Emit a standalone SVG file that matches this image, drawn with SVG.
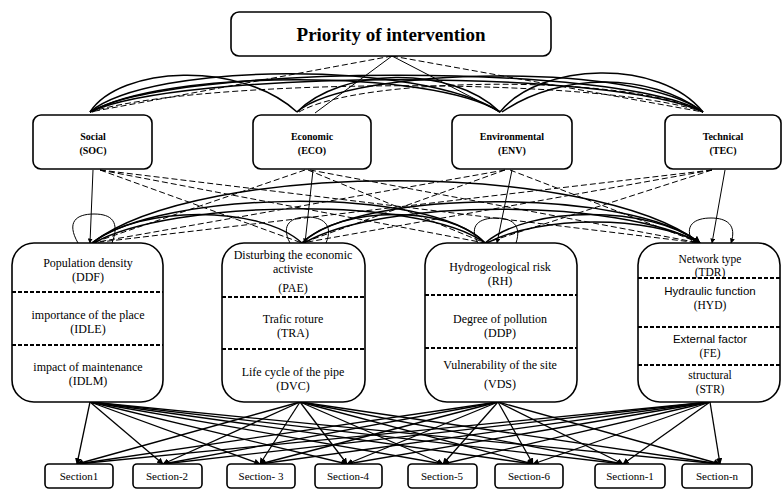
<svg xmlns="http://www.w3.org/2000/svg" width="783" height="489" viewBox="0 0 783 489">
<style>
.box{fill:#fff;stroke:#000;stroke-width:1.6}
.t{font-family:"Liberation Serif","Times New Roman",serif;fill:#000;text-anchor:middle}
.ts{font-family:"Liberation Sans",Arial,sans-serif;fill:#000;text-anchor:middle}
.title{font-size:19px;font-weight:bold}
.crit{font-size:10px;font-weight:bold}
.sub{font-size:12px}
.sub2{font-size:11.5px}
.sec{font-size:11px}
.div{stroke:#000;stroke-width:2;stroke-dasharray:4 2}
.c line,.c path{fill:none;stroke:#000}
.s{stroke-width:1}
.a{stroke-width:1.3}
.d{stroke-width:1;stroke-dasharray:6 3}
.arc{stroke-width:1.5}
</style>
<defs>
<marker id="ah" viewBox="0 0 10 10" refX="9" refY="5" markerWidth="5" markerHeight="5" orient="auto">
<path d="M0,0 L10,5 L0,10 z" fill="#000"/>
</marker>
</defs>

<g id="connectors" class="c">
<!-- goal to criteria -->
<line class="d" x1="392" y1="56" x2="90" y2="112"/>
<line class="s" x1="392" y1="56" x2="315" y2="113"/>
<line class="s" x1="392" y1="56" x2="500" y2="112"/>
<line class="d" x1="392" y1="56" x2="703" y2="112"/>
<!-- criteria pairwise arcs -->
<path class="arc" d="M90,112 C120,66 240,60 297,112"/>
<path class="arc" d="M90,112 C150,62 420,60 500,112"/>
<path class="arc" d="M92,112 C160,70 430,68 500,112"/>
<path class="arc" d="M90,112 C170,64 620,62 703,112"/>
<path class="arc" d="M90,112 C180,70 610,68 703,112"/>
<path class="d" d="M90,112 C200,78 600,76 703,112"/>
<path class="arc" d="M297,112 C340,68 450,64 500,112"/>
<path class="arc" d="M297,112 C350,66 640,62 703,112"/>
<path class="d" d="M299,112 C360,76 630,74 703,112"/>
<path class="arc" d="M500,112 C540,62 660,58 703,112"/>
<path class="arc" d="M502,112 C560,72 650,72 703,112"/>

<!-- criteria to sub-criteria: solid -->
<line class="s" x1="93" y1="170" x2="90" y2="243" marker-end="url(#ah)"/>
<line class="s" x1="313" y1="170" x2="305" y2="243" marker-end="url(#ah)"/>
<line class="s" x1="512" y1="170" x2="497" y2="243" marker-end="url(#ah)"/>
<line class="s" x1="725" y1="170" x2="712" y2="243" marker-end="url(#ah)"/>
<!-- criteria to sub-criteria: dashed -->
<line class="d" x1="100" y1="170" x2="302" y2="243"/>
<line class="d" x1="100" y1="170" x2="485" y2="243"/>
<line class="d" x1="100" y1="170" x2="700" y2="243"/>
<line class="d" x1="305" y1="170" x2="92" y2="243"/>
<line class="d" x1="308" y1="170" x2="485" y2="243"/>
<line class="d" x1="310" y1="170" x2="700" y2="243"/>
<line class="d" x1="505" y1="170" x2="92" y2="243"/>
<line class="d" x1="505" y1="170" x2="302" y2="243"/>
<line class="d" x1="510" y1="170" x2="700" y2="243"/>
<line class="d" x1="712" y1="170" x2="92" y2="243"/>
<line class="d" x1="712" y1="170" x2="302" y2="243"/>
<line class="d" x1="712" y1="170" x2="485" y2="243"/>
<!-- sub-criteria pairwise arcs -->
<path class="arc" d="M92,243 C200,160 590,160 700,243" marker-end="url(#ah)"/>
<path class="arc" d="M92,243 C160,190 430,185 485,243"/>
<path class="arc" d="M94,243 C170,200 420,195 485,243"/>
<path class="arc" d="M92,243 C140,205 260,205 302,243"/>
<path class="arc" d="M302,243 C340,205 450,205 485,243"/>
<path class="arc" d="M302,243 C360,188 630,188 700,243" marker-end="url(#ah)"/>
<path class="arc" d="M304,243 C380,198 620,198 700,243"/>
<path class="arc" d="M485,243 C530,205 650,205 700,243"/>
<path class="arc" d="M487,243 C540,215 650,215 700,243"/>
<!-- self loops -->
<path class="s" d="M78,243 C66,222 76,214 94,214 C112,214 120,222 112,243"/>
<path class="s" d="M290,243 C280,224 292,217 307,217 C322,217 334,224 326,243"/>
<path class="s" d="M478,243 C468,225 480,218 496,218 C512,218 522,225 516,243"/>
<path class="s" d="M693,243 C683,225 695,218 711,218 C727,218 737,225 731,243" marker-end="url(#ah)"/>

<!-- sub-criteria to sections -->
<g class="a" marker-end="url(#ah)">
<line x1="90" y1="402" x2="77" y2="464"/>
<line x1="90" y1="402" x2="163" y2="464"/>
<line x1="90" y1="402" x2="260" y2="464"/>
<line x1="90" y1="402" x2="347" y2="464"/>
<line x1="90" y1="402" x2="443" y2="464"/>
<line x1="90" y1="402" x2="533" y2="464"/>
<line x1="90" y1="402" x2="623" y2="464"/>
<line x1="90" y1="402" x2="720" y2="464"/>
<line x1="300" y1="402" x2="77" y2="464"/>
<line x1="300" y1="402" x2="163" y2="464"/>
<line x1="300" y1="402" x2="260" y2="464"/>
<line x1="300" y1="402" x2="347" y2="464"/>
<line x1="300" y1="402" x2="443" y2="464"/>
<line x1="300" y1="402" x2="533" y2="464"/>
<line x1="300" y1="402" x2="623" y2="464"/>
<line x1="300" y1="402" x2="720" y2="464"/>
<line x1="498" y1="402" x2="77" y2="464"/>
<line x1="498" y1="402" x2="163" y2="464"/>
<line x1="498" y1="402" x2="260" y2="464"/>
<line x1="498" y1="402" x2="347" y2="464"/>
<line x1="498" y1="402" x2="443" y2="464"/>
<line x1="498" y1="402" x2="533" y2="464"/>
<line x1="498" y1="402" x2="623" y2="464"/>
<line x1="498" y1="402" x2="720" y2="464"/>
<line x1="710" y1="402" x2="77" y2="464"/>
<line x1="710" y1="402" x2="163" y2="464"/>
<line x1="710" y1="402" x2="260" y2="464"/>
<line x1="710" y1="402" x2="347" y2="464"/>
<line x1="710" y1="402" x2="443" y2="464"/>
<line x1="710" y1="402" x2="533" y2="464"/>
<line x1="710" y1="402" x2="623" y2="464"/>
<line x1="710" y1="402" x2="720" y2="464"/>
</g>
</g>

<g id="goal">
<rect class="box" x="231" y="12" width="320" height="44" rx="8"/>
<text class="t title" x="391" y="41">Priority of intervention</text>
</g>

<g id="soc">
<rect class="box" x="33" y="115" width="119" height="54" rx="8"/>
<text class="t crit" x="93" y="140">Social</text>
<text class="t crit" x="93" y="154">(SOC)</text>
</g>
<g id="eco">
<rect class="box" x="253" y="115" width="118" height="54" rx="8"/>
<text class="t crit" x="312" y="140">Economic</text>
<text class="t crit" x="312" y="154">(ECO)</text>
</g>
<g id="env">
<rect class="box" x="452" y="115" width="120" height="54" rx="8"/>
<text class="t crit" x="512" y="140">Environmental</text>
<text class="t crit" x="512" y="154">(ENV)</text>
</g>
<g id="tec">
<rect class="box" x="665" y="115" width="116" height="54" rx="8"/>
<text class="t crit" x="723" y="140">Technical</text>
<text class="t crit" x="723" y="154">(TEC)</text>
</g>

<g id="sub-soc">
<rect class="box" x="12" y="243" width="151" height="159" rx="22"/>
<line class="div" x1="12" y1="292" x2="163" y2="292"/>
<line class="div" x1="12" y1="345" x2="163" y2="345"/>
<text class="t sub" x="88" y="267">Population density</text>
<text class="t sub" x="88" y="281">(DDF)</text>
<text class="t sub" x="88" y="319">importance of the place</text>
<text class="t sub" x="88" y="333">(IDLE)</text>
<text class="t sub" x="88" y="371">impact of maintenance</text>
<text class="t sub" x="88" y="385">(IDLM)</text>
</g>
<g id="sub-eco">
<rect class="box" x="222" y="243" width="143" height="159" rx="22"/>
<line class="div" x1="222" y1="297" x2="365" y2="297"/>
<line class="div" x1="222" y1="349" x2="365" y2="349"/>
<text class="t sub" x="293" y="259">Disturbing the economic</text>
<text class="t sub" x="293" y="273">activiste</text>
<text class="t sub" x="293" y="292">(PAE)</text>
<text class="t sub" x="293" y="323">Trafic roture</text>
<text class="t sub" x="293" y="337">(TRA)</text>
<text class="t sub" x="293" y="376">Life cycle of the pipe</text>
<text class="t sub" x="293" y="390">(DVC)</text>
</g>
<g id="sub-env">
<rect class="box" x="425" y="243" width="152" height="159" rx="22"/>
<line class="div" x1="425" y1="295" x2="577" y2="295"/>
<line class="div" x1="425" y1="348" x2="577" y2="348"/>
<text class="t sub" x="500" y="271">Hydrogeological risk</text>
<text class="t sub" x="500" y="285">(RH)</text>
<text class="t sub" x="500" y="323">Degree of pollution</text>
<text class="t sub" x="500" y="337">(DDP)</text>
<text class="t sub" x="500" y="369">Vulnerability of the site</text>
<text class="t sub" x="500" y="388">(VDS)</text>
</g>
<g id="sub-tec">
<rect class="box" x="638" y="243" width="142" height="159" rx="22"/>
<line class="div" x1="638" y1="278" x2="780" y2="278"/>
<line class="div" x1="638" y1="327" x2="780" y2="327"/>
<line class="div" x1="638" y1="365" x2="780" y2="365"/>
<text class="t sub2" x="710" y="263">Network type</text>
<text class="t sub2" x="710" y="276">(TDR)</text>
<text class="ts sub2" x="710" y="295">Hydraulic function</text>
<text class="t sub2" x="710" y="309">(HYD)</text>
<text class="ts sub2" x="710" y="343">External factor</text>
<text class="t sub2" x="710" y="357">(FE)</text>
<text class="t sub2" x="710" y="379">structural</text>
<text class="t sub2" x="710" y="393">(STR)</text>
</g>

<g id="s1"><rect class="box" x="45" y="464" width="68" height="24" rx="4"/><text class="t sec" x="79" y="480">Section1</text></g>
<g id="s2"><rect class="box" x="133" y="464" width="69" height="24" rx="4"/><text class="t sec" x="167" y="480">Section-2</text></g>
<g id="s3"><rect class="box" x="227" y="464" width="68" height="24" rx="4"/><text class="t sec" x="261" y="480">Section- 3</text></g>
<g id="s4"><rect class="box" x="315" y="464" width="67" height="24" rx="4"/><text class="t sec" x="348" y="480">Section-4</text></g>
<g id="s5"><rect class="box" x="408" y="464" width="69" height="24" rx="4"/><text class="t sec" x="442" y="480">Section-5</text></g>
<g id="s6"><rect class="box" x="495" y="464" width="68" height="24" rx="4"/><text class="t sec" x="529" y="480">Section-6</text></g>
<g id="sn1"><rect class="box" x="595" y="464" width="70" height="24" rx="4"/><text class="t sec" x="630" y="480">Sectionn-1</text></g>
<g id="sn"><rect class="box" x="682" y="464" width="70" height="24" rx="4"/><text class="t sec" x="717" y="480">Section-n</text></g>
</svg>
